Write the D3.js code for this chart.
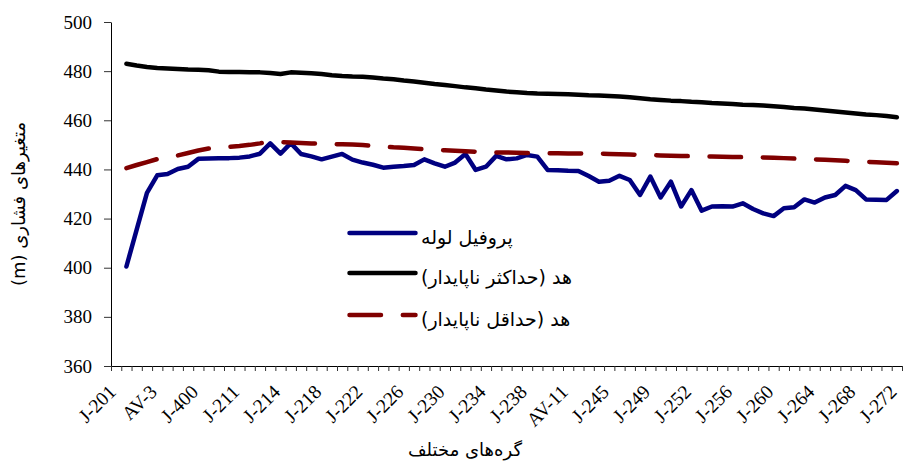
<!DOCTYPE html>
<html>
<head>
<meta charset="utf-8">
<script src="https://cdn.jsdelivr.net/npm/d3@7/dist/d3.min.js"></script>
<style>
  body { margin: 0; background: #fff; }
  svg { display: block; }
</style>
</head>
<body>
<svg id="chart" width="903" height="461"></svg>
<script>
// ########################################## DATA
// one label every 4 nodes (77 node slots, the first slot has no values)
const tickLabels = ['J-201', 'AV-3', 'J-400', 'J-211', 'J-214', 'J-218', 'J-222', 'J-226', 'J-230', 'J-234',
  'J-238', 'AV-11', 'J-245', 'J-249', 'J-252', 'J-256', 'J-260', 'J-264', 'J-268', 'J-272'];

// pipe profile (blue)
const pipeProfile = [null,
  400.5, 415.5, 430.5, 437.6, 438.1, 440.2, 441.1, 444.3, 444.4, 444.5,
  444.6, 444.8, 445.3, 446.4, 450.6, 446.4, 450.7, 446.3, 445.3, 444.1,
  445.2, 446.3, 444.0, 442.8, 441.9, 440.7, 441.1, 441.4, 441.8, 444.1,
  442.5, 441.1, 442.8, 446.3, 439.8, 441.1, 445.5, 444.1, 444.5, 445.9,
  445.2, 439.8, 439.7, 439.5, 439.4, 437.3, 435.0, 435.4, 437.4, 435.7,
  429.6, 437.1, 428.6, 435.0, 424.9, 431.6, 423.2, 424.9, 425.0, 424.9,
  426.2, 423.9, 422.1, 421.0, 424.2, 424.6, 427.8, 426.5, 428.6, 429.6,
  433.3, 431.6, 427.8, 427.7, 427.6, 431.2];

// max transient head (black)
const headMax = [null,
  483.0, 482.3, 481.7, 481.3, 481.1, 480.9, 480.7, 480.6, 480.4, 479.8,
  479.7, 479.7, 479.6, 479.5, 479.2, 478.8, 479.5, 479.3, 479.1, 478.8,
  478.3, 478.0, 477.8, 477.7, 477.4, 477.0, 476.7, 476.2, 475.8, 475.3,
  474.8, 474.4, 473.9, 473.4, 473.0, 472.5, 472.1, 471.7, 471.4, 471.1,
  470.9, 470.8, 470.7, 470.6, 470.4, 470.2, 470.1, 469.9, 469.7, 469.4,
  469.0, 468.6, 468.3, 468.0, 467.8, 467.5, 467.3, 467.0, 466.8, 466.6,
  466.3, 466.2, 466.0, 465.7, 465.4, 465.0, 464.8, 464.4, 464.0, 463.6,
  463.2, 462.8, 462.4, 462.1, 461.7, 461.2];

// min transient head (dark red, dashed)
const headMin = [null,
  440.5, 441.8, 443.0, 444.2, 445.0, 445.7, 446.7, 447.7, 448.5, 449.0,
  449.2, 449.5, 450.0, 450.6, 451.3, 451.1, 451.0, 450.8, 450.6, 450.4,
  450.3, 450.2, 450.1, 449.9, 449.6, 449.3, 449.0, 448.8, 448.5, 448.2,
  448.0, 447.8, 447.6, 447.4, 447.2, 447.1, 446.9, 446.9, 446.8, 446.7,
  446.7, 446.6, 446.6, 446.5, 446.5, 446.4, 446.4, 446.3, 446.2, 446.1,
  445.9, 445.8, 445.7, 445.6, 445.5, 445.4, 445.3, 445.3, 445.2, 445.1,
  445.0, 445.0, 444.9, 444.8, 444.6, 444.4, 444.3, 444.1, 443.9, 443.7,
  443.5, 443.3, 443.1, 442.9, 442.7, 442.5];

const legendNames = ['پروفیل لوله', 'هد (حداکثر ناپایدار)', 'هد (حداقل ناپایدار)'];
const yTicks = [360, 380, 400, 420, 440, 460, 480, 500];

// ########################################## SCALES
const plot = { left: 111, right: 902, top: 22, bottom: 366 };
const nSlots = pipeProfile.length;

const x = d3.scaleLinear().domain([0, nSlots]).range([plot.left, plot.right]);
const y = d3.scaleLinear().domain([360, 500]).range([plot.bottom, plot.top]);

const svg = d3.select('#chart');

// ########################################## AXES
const yAxis = svg.append('g')
  .attr('transform', `translate(${plot.left},0)`)
  .call(d3.axisLeft(y).tickValues(yTicks).tickSize(7).tickPadding(12).tickSizeOuter(0));
yAxis.selectAll('text')
  .style('font-family', '"Liberation Serif", serif')
  .style('font-size', '19px')
  .attr('fill', '#000');

const xAxis = svg.append('g')
  .attr('transform', `translate(0,${plot.bottom})`)
  .call(d3.axisBottom(x).tickValues(d3.range(0, nSlots + 1)).tickSize(5).tickFormat('').tickSizeOuter(0));

svg.selectAll('.domain').attr('stroke', '#000').attr('stroke-width', 1);
svg.selectAll('.tick line').attr('stroke', '#333').attr('stroke-width', 1);

// rotated node labels, every 4th slot
svg.append('g')
  .selectAll('text.xlabel')
  .data(tickLabels)
  .enter()
  .append('text')
  .classed('xlabel', true)
  .attr('transform', (d, k) => `translate(${x(k * 4 + 0.5) + 1},${plot.bottom + 27}) rotate(-45)`)
  .attr('text-anchor', 'end')
  .style('font-family', '"Liberation Serif", serif')
  .style('font-size', '19.5px')
  .text((d) => d);

// axis titles
svg.append('text')
  .attr('transform', `translate(25,${(plot.top + plot.bottom) / 2 + 10}) rotate(-90)`)
  .attr('text-anchor', 'middle')
  .attr('direction', 'rtl')
  .style('font-family', '"DejaVu Sans", sans-serif')
  .style('font-size', '18px')
  .text('متغیرهای فشاری (m)');

svg.append('text')
  .attr('x', 465)
  .attr('y', 456)
  .attr('text-anchor', 'middle')
  .attr('direction', 'rtl')
  .style('font-family', '"DejaVu Sans", sans-serif')
  .style('font-size', '18px')
  .text('گره‌های مختلف');

// ########################################## LINES
const line = d3.line()
  .defined((d) => d != null)
  .x((d, i) => x(i + 0.5))
  .y((d) => y(d));

const series = [
  { values: pipeProfile, color: '#000080', dash: null },
  { values: headMax, color: '#000000', dash: null },
  { values: headMin, color: '#800000', dash: '31.5,21.8' },
];

svg.append('g')
  .selectAll('path.series')
  .data(series)
  .enter()
  .append('path')
  .classed('series', true)
  .attr('d', (d) => line(d.values))
  .attr('fill', 'none')
  .attr('stroke', (d) => d.color)
  .attr('stroke-width', 4.5)
  .attr('stroke-linejoin', 'round')
  .attr('stroke-linecap', 'round')
  .attr('stroke-dasharray', (d) => d.dash);

// ########################################## LEGEND
const legendY = [233, 273, 315];
const legend = svg.append('g')
  .selectAll('g.legend')
  .data(series)
  .enter()
  .append('g')
  .classed('legend', true)
  .attr('transform', (d, i) => `translate(0,${legendY[i]})`);

legend.append('line')
  .attr('x1', 349.5)
  .attr('x2', 415.5)
  .attr('stroke', (d) => d.color)
  .attr('stroke-width', 4.5)
  .attr('stroke-linecap', 'round')
  .attr('stroke-dasharray', (d) => d.dash);

legend.append('text')
  .attr('x', 421)
  .attr('y', 11)
  .attr('text-anchor', 'end')
  .attr('direction', 'rtl')
  .style('font-family', '"DejaVu Sans", sans-serif')
  .style('font-size', '19px')
  .text((d, i) => legendNames[i]);
</script>
</body>
</html>
